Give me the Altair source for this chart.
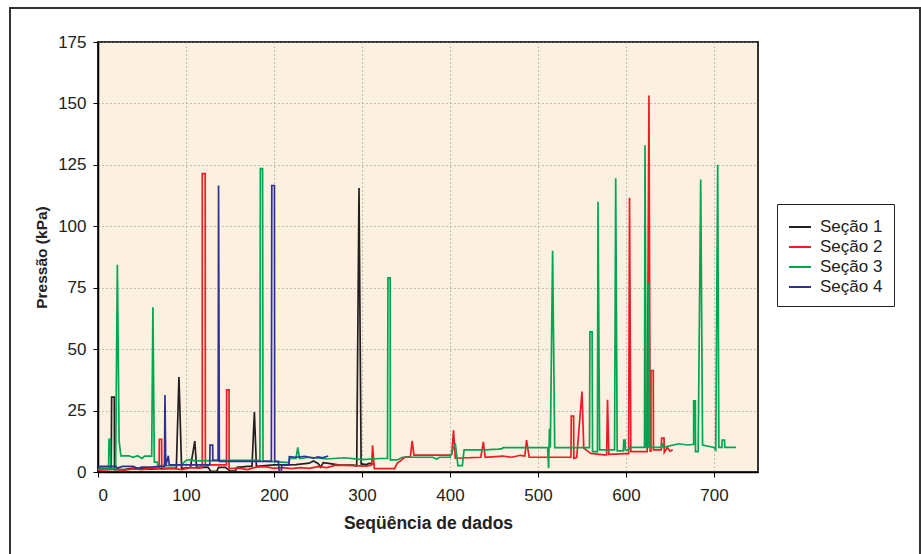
import altair as alt
import pandas as pd

series_names = ["Seção 1", "Seção 2", "Seção 3", "Seção 4"]
series_colors = ["#231F20", "#ED1C24", "#00A651", "#2E3192"]

x_ticks = [0, 100, 200, 300, 400, 500, 600, 700]
y_ticks = [0, 25, 50, 75, 100, 125, 150, 175]

# Seção 1 (black)
s1_x = [0, 10, 15, 15.5, 18.5, 18.8, 30, 40, 60, 75, 89, 92, 95, 105, 110, 112, 125, 128,
        135, 137, 145, 150, 156, 158, 170, 175, 177.7, 180, 190, 200, 215, 225, 240, 245,
        250, 253, 256, 262, 275, 290, 294, 296.6, 299, 305, 308, 313]
s1_y = [1.5, 1.5, 1.2, 30.5, 30.5, 1.0, 1.0, 1.6, 1.2, 1.5, 1.5, 38.7, 1.5, 1.8, 12.6, 1.9, 2.0, 0.3,
        0.3, 1.9, 1.9, 0.4, 0.4, 1.9, 2.3, 2.3, 24.4, 2.3, 2.6, 2.9, 2.9, 3.0, 3.6, 4.5,
        3.5, 2.0, 3.8, 3.5, 2.8, 2.8, 2.5, 115.6, 3.3, 3.0, 3.5, 3.3]

# Seção 2 (red)
s2_x = [0, 10, 20, 30, 40, 50, 60, 69.5, 69.7, 72.3, 72.5, 85, 95, 105, 115, 118.5, 118.5, 121.8,
        122, 135, 146, 146.2, 148.9, 149, 160, 170, 180, 190, 200, 210, 220, 230, 240, 250, 260,
        270, 290, 305, 311, 312, 314, 337, 340, 345, 349, 355, 357, 359, 400, 402, 404, 406, 435,
        437.9, 440, 460, 470, 480, 485, 487, 490, 537.5, 537.8, 540.5, 540.7, 544, 550, 552, 560,
        575, 578, 579, 580.5, 600, 603, 604, 605.5, 624, 626.1, 627.5, 628.4, 628.4, 631, 631.2,
        640, 640.5, 643.2, 643.5, 647, 650, 653]
s2_y = [0.8, 0.9, 1.2, 0.8, 1.3, 1.0, 1.6, 1.5, 13.3, 13.3, 1.2, 1.5, 1.0, 1.8, 1.6, 1.8, 121.4, 121.4,
        2.9, 2.9, 2.9, 33.4, 33.4, 1.4, 1.6, 1.0, 2.0, 2.2, 1.5, 1.8, 1.4, 1.8, 1.5, 2.2, 1.8,
        2.8, 2.6, 2.4, 2.8, 10.9, 1.4, 1.4, 3.5, 4.9, 6.1, 6.3, 12.7, 6.9, 6.9, 7.2, 17.0, 5.6, 6.0,
        12.3, 6.0, 6.5, 6.0, 6.8, 6.5, 13.0, 6.0, 6.0, 22.7, 22.7, 5.6, 6.0, 32.7, 9.7, 7.6,
        7.0, 7.0, 29.4, 7.2, 7.5, 7.5, 111.6, 8.3, 8.3, 153.2, 8.5, 8.5, 41.3, 41.3, 9.0,
        9.0, 13.8, 13.8, 8.0, 10.0, 8.5, 9.0]

# Seção 3 (green)
s3_x = [0, 12, 12.5, 14, 14.5, 20, 22, 24, 26, 35, 40, 45, 50, 53, 61, 62.4, 64, 67.5, 68, 88, 95,
        100, 105, 110, 150, 184, 184.5, 187, 187.5, 217, 218, 225, 227, 229, 240, 260, 280, 300,
        320, 329, 329.5, 332, 332.2, 340, 346, 380, 385, 388, 400, 406, 409, 414, 416, 440, 455,
        459.5, 460, 511, 512, 513, 514, 516.6, 519, 558.5, 559, 561.5, 562, 567.5, 568.2, 570,
        587, 588.3, 590, 597, 597.4, 599, 599.2, 603, 604, 621, 621.6, 623, 625, 626, 627, 640,
        640.6, 642, 642.2, 660, 670, 675, 676.9, 676.9, 678.8, 679, 682, 684.9, 687, 700, 702,
        704.2, 705.5, 709, 709.2, 712, 712.2, 725]
s3_y = [1.2, 1.2, 13.3, 13.3, 1.5, 1.5, 84.3, 12.6, 6.6, 6.6, 6.0, 6.6, 5.5, 6.5, 6.5, 67.0, 4.0, 4.0,
        2.6, 2.6, 3.0, 4.7, 5.0, 4.5, 4.7, 4.7, 123.5, 123.5, 4.5, 3.8, 5.5, 5.5, 10.0, 5.5, 6.0,
        5.3, 5.8, 5.0, 5.5, 5.5, 79.0, 79.0, 4.9, 4.9, 6.0, 6.0, 5.3, 6.0, 6.0, 11.7, 2.6, 2.6,
        9.0, 9.0, 9.3, 9.5, 9.9, 9.9, 1.5, 17.6, 9.9, 90.0, 9.9, 9.9, 57.0, 57.0, 8.3, 8.3,
        110.0, 9.0, 9.0, 119.5, 8.6, 8.6, 13.0, 13.0, 9.0, 9.0, 10.0, 10.0, 133.0, 10.0, 10.0,
        77.0, 10.0, 10.0, 11.5, 11.5, 10.0, 11.5, 11.0, 11.2, 11.2, 29.0, 29.0, 8.3, 8.3, 119.0,
        11.0, 10.0, 9.0, 125.0, 10.0, 10.0, 13.0, 13.0, 10.0, 10.0]

# Seção 4 (blue)
s4_x = [0, 20, 22, 28, 40, 45, 50, 60, 70, 75.5, 76.1, 77, 79.9, 81, 127, 127.3, 130.3, 130.5,
        136.5, 137, 137.9, 197, 197.5, 200.5, 200.8, 205, 206, 208, 209, 217, 217.4, 225, 235,
        245, 250, 255, 261.7]
s4_y = [2.3, 2.3, 1.6, 2.3, 2.3, 1.5, 2.0, 2.0, 2.3, 2.3, 31.3, 2.5, 6.6, 2.9, 2.9, 10.9, 10.9, 4.7,
        4.7, 116.6, 4.3, 4.3, 116.6, 116.6, 4.3, 4.3, 0.0, 0.0, 2.8, 2.8, 6.2, 6.0, 6.4,
        5.6, 6.2, 5.8, 6.5]

rows = []
for name, xs, ys in zip(series_names, [s1_x, s2_x, s3_x, s4_x], [s1_y, s2_y, s3_y, s4_y]):
    for i, (a, b) in enumerate(zip(xs, ys)):
        rows.append({"serie": name, "seq": a, "p": b, "i": i})
df = pd.DataFrame(rows)

FONT = "Liberation Sans"

frame = alt.Chart(alt.Data(values=[{"a": 1}])).mark_rect(
    fill="transparent", stroke="#333333", strokeWidth=2, clip=False
).encode(
    x=alt.value(-88), x2=alt.value(822), y=alt.value(-34), y2=alt.value(600)
)

lines = alt.Chart(df).mark_line(strokeWidth=1.7, clip=True).encode(
    x=alt.X("seq:Q",
            scale=alt.Scale(domain=[0, 750], nice=False, zero=False),
            axis=alt.Axis(values=x_ticks, title="Seqüência de dados", format="d",
                          titleFontSize=17.5, titleFontWeight="bold", titlePadding=11,
                          labelFontSize=17, labelPadding=10, tickSize=5,
                          grid=True, gridDash=[1, 3], gridColor="#8a8a8a", gridWidth=1)),
    y=alt.Y("p:Q",
            scale=alt.Scale(domain=[0, 175], nice=False),
            axis=alt.Axis(values=y_ticks, title="Pressão (kPa)", format="d",
                          titleFontSize=15.5, titleFontWeight="bold", titlePadding=8,
                          labelFontSize=17, labelPadding=7, tickSize=5,
                          grid=True, gridDash=[1, 3], gridColor="#8a8a8a", gridWidth=1)),
    color=alt.Color("serie:N",
                    scale=alt.Scale(domain=series_names, range=series_colors),
                    legend=alt.Legend(title=None, orient="none", legendX=679, legendY=162,
                                      strokeColor="#222222", fillColor="white", padding=11,
                                      symbolType="stroke", symbolSize=484, symbolStrokeWidth=2,
                                      labelFontSize=17, labelOffset=8, rowPadding=0,
                                      labelColor="#222222")),
    order=alt.Order("i:Q"),
)

chart = alt.layer(frame, lines).properties(
    width=660, height=430,
    autosize=alt.AutoSizeParams(type="none"),
    padding={"left": 98, "top": 42, "right": 163, "bottom": 82},
    background="white",
).configure(font=FONT).configure_axis(
    domainColor="#000000", domainWidth=1.5, tickColor="#000000", labelColor="#222222",
    titleColor="#222222"
).configure_view(
    fill="#FCF0E0", stroke="#333333", strokeWidth=2
)

chart.save("out.html", embed_options={"renderer": "svg", "actions": False})
